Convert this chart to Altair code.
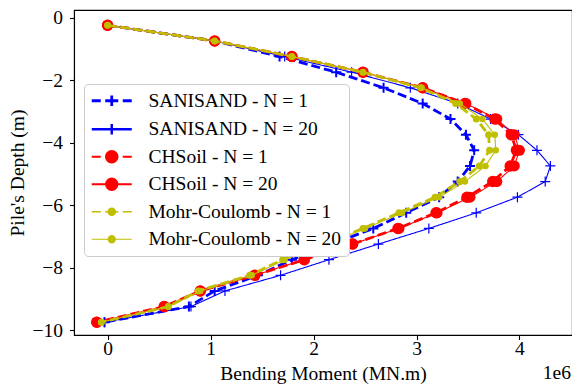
import altair as alt
import pandas as pd

# ---------------- data (bending moment in units of 1e6) ----------------
depth = [-0.25, -0.75, -1.25, -1.75, -2.25, -2.75, -3.25, -3.75, -4.25, -4.75,
         -5.25, -5.75, -6.25, -6.75, -7.25, -7.75, -8.25, -8.75, -9.25, -9.75]

sanisand_n1 = [0.00, 1.04, 1.67, 2.22, 2.68, 3.06, 3.33, 3.48, 3.56, 3.52,
               3.40, 3.22, 2.90, 2.58, 2.18, 1.79, 1.46, 1.04, 0.79, -0.03]
sanisand_n20 = [0.00, 1.04, 1.72, 2.37, 2.94, 3.40, 3.72, 3.99, 4.17, 4.30,
                4.25, 3.98, 3.58, 3.12, 2.63, 2.15, 1.68, 1.14, 0.81, -0.03]
chsoil_n1 = [0.00, 1.04, 1.79, 2.48, 3.06, 3.47, 3.76, 3.92, 3.97, 3.91,
             3.74, 3.49, 3.19, 2.82, 2.38, 1.91, 1.43, 0.90, 0.55, -0.105]
chsoil_n20 = [0.00, 1.04, 1.79, 2.48, 3.06, 3.48, 3.78, 3.95, 4.00, 3.95,
              3.78, 3.52, 3.20, 2.83, 2.38, 1.91, 1.43, 0.90, 0.55, -0.105]
mc_n1 = [0.00, 1.04, 1.79, 2.48, 3.04, 3.38, 3.58, 3.70, 3.71, 3.61,
         3.42, 3.18, 2.83, 2.48, 2.10, 1.70, 1.38, 0.88, 0.59, -0.06]
mc_n20 = [0.00, 1.04, 1.79, 2.48, 3.05, 3.42, 3.64, 3.76, 3.77, 3.67,
          3.47, 3.22, 2.86, 2.50, 2.12, 1.72, 1.40, 0.90, 0.59, -0.06]

series_names = ["SANISAND - N = 1", "SANISAND - N = 20",
                "CHSoil - N = 1", "CHSoil - N = 20",
                "Mohr-Coulomb - N = 1", "Mohr-Coulomb - N = 20"]
series_values = [sanisand_n1, sanisand_n20, chsoil_n1, chsoil_n20, mc_n1, mc_n20]
x_ticks = [0, 1, 2, 3, 4]
y_ticks = [0, -2, -4, -6, -8, -10]

# ---------------- styles ----------------
BLUE, RED, YEL = "#0000ff", "#ff0000", "#bfbf00"
colors = [BLUE, BLUE, RED, RED, YEL, YEL]
dashes = [[9, 4], [1, 0], [9, 4], [1, 0], [9, 4], [1, 0]]
widths = [2.8, 1.1, 2.8, 1.1, 2.8, 1.1]
PLUS = "M-1,0H1M0,-1V1"
marker_shape = [PLUS, PLUS, "circle", "circle", "circle", "circle"]
marker_size = [100, 100, 130, 121, 49, 42]
marker_filled = [False, False, True, True, True, True]
marker_sw = [2.0, 1.2, 0, 0, 0, 0]

# legend symbols: line (dashed / solid) + marker; symbol size 100 -> 1 unit = 5 px
L_DASH = "M-4,0H-2.2M-1.3,0H1.3M2.2,0H4"
L_SOLID = "M-4,0H4"
M_PLUS = "M-1.05,0H1.05M0,-1.05V1.05"
M_CIRC = "M-1.15,0A1.15,1.15,0,1,1,1.15,0A1.15,1.15,0,1,1,-1.15,0Z"
M_DOT = "M-0.72,0A0.72,0.72,0,1,1,0.72,0A0.72,0.72,0,1,1,-0.72,0Z"
legend_paths = [L_DASH + M_PLUS, L_SOLID + M_PLUS, L_DASH + M_CIRC,
                L_SOLID + M_CIRC, L_DASH + M_DOT, L_SOLID + M_DOT]

rows = []
for name, vals in zip(series_names, series_values):
    for i, (d, v) in enumerate(zip(depth, vals)):
        rows.append({"series": name, "idx": i, "depth": d, "moment": v * 1e6})
df = pd.DataFrame(rows)

FONT = "Liberation Serif"
FS = 19.5
W, H = 498, 325

x_enc = alt.X("moment:Q",
              scale=alt.Scale(domain=[-0.326e6, 4.51e6], nice=False, zero=False),
              axis=alt.Axis(values=[t * 1e6 for t in x_ticks],
                            labelExpr="format(datum.value / 1e6, 'd')",
                            title="Bending Moment (MN.m)"))
y_enc = alt.Y("depth:Q",
              scale=alt.Scale(domain=[-10.16, 0.24], nice=False, zero=False),
              axis=alt.Axis(values=y_ticks,
                            labelExpr="replace(format(datum.value, 'd'), '-', '\u2212')",
                            title="Pile's Depth (m)"))

base = alt.Chart(df)
layers = []
for k, name in enumerate(series_names):
    sub = base.transform_filter(alt.datum.series == name)
    layers.append(
        sub.mark_line(color=colors[k], strokeDash=dashes[k], strokeWidth=widths[k])
        .encode(x=x_enc, y=y_enc, order=alt.Order("idx:Q"))
    )
    if marker_filled[k]:
        pt = sub.mark_point(shape=marker_shape[k], size=marker_size[k], filled=True,
                            color=colors[k], opacity=1, strokeWidth=0)
    else:
        pt = sub.mark_point(shape=marker_shape[k], size=marker_size[k], filled=False,
                            color=colors[k], opacity=1, strokeWidth=marker_sw[k])
    layers.append(pt.encode(x=x_enc, y=y_enc))

leg = alt.Legend(title=None, orient="none", legendX=10, legendY=74,
                 symbolSize=100, labelFont=FONT, labelFontSize=FS,
                 labelColor="black", labelOffset=27, symbolOffset=11,
                 rowPadding=6.5, padding=7, cornerRadius=4, labelLimit=400,
                 strokeColor="#cccccc", fillColor="white")
legend_layer = base.transform_filter("datum.depth > 100").mark_point(opacity=1).encode(
    x=x_enc, y=y_enc,
    shape=alt.Shape("series:N", scale=alt.Scale(domain=series_names, range=legend_paths), legend=leg),
    fill=alt.Fill("series:N", scale=alt.Scale(domain=series_names, range=colors), legend=leg),
    stroke=alt.Stroke("series:N", scale=alt.Scale(domain=series_names, range=colors), legend=leg),
    strokeWidth=alt.StrokeWidth("series:N", scale=alt.Scale(domain=series_names, range=widths), legend=leg),
)
layers.append(legend_layer)

offset_text = alt.Chart(alt.Data(values=[{"t": "1e6"}])).mark_text(
    align="right", baseline="middle", font=FONT, fontSize=FS, color="black"
).encode(text="t:N", x=alt.value(W - 1), y=alt.value(H + 38))
layers.append(offset_text)

chart = alt.layer(*layers).properties(
    width=W, height=H,
    autosize=alt.AutoSizeParams(type="none"),
    padding={"left": 66, "top": 2, "right": 0, "bottom": 54},
).configure_view(stroke="black", strokeWidth=1.1).configure_axis(
    grid=False, domainColor="black", domainWidth=1.1, tickColor="black",
    tickSize=4.5, tickWidth=1.1, labelFont=FONT, labelFontSize=FS,
    labelColor="black", titleFont=FONT, titleFontSize=FS,
    titleFontWeight="normal", titleColor="black"
).configure_axisX(labelPadding=0, titlePadding=6).configure_axisY(
    labelPadding=7, titlePadding=5)

chart.save("out.html", embed_options={"renderer": "svg", "actions": False})
